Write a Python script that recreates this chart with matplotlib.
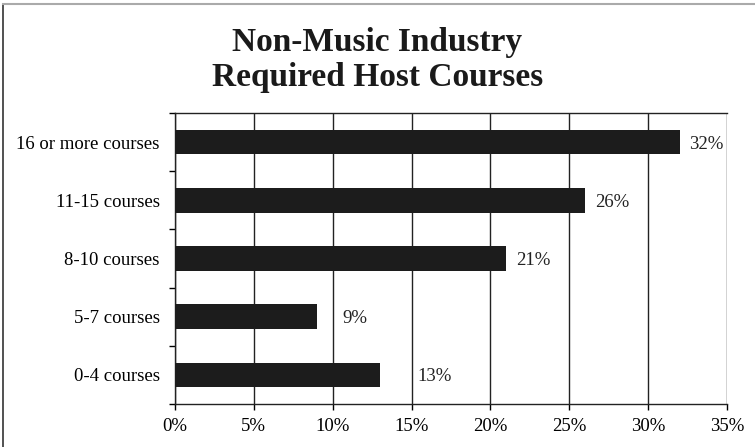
import matplotlib.pyplot as plt
from matplotlib.lines import Line2D
from matplotlib.ticker import FuncFormatter, MultipleLocator

OUT_PATH = "out.png"

categories = ["0-4 courses", "5-7 courses", "8-10 courses", "11-15 courses", "16 or more courses"]
shares = [13, 9, 21, 26, 32]
value_labels = ["13%", "9%", "21%", "26%", "32%"]

TITLE = "Non-Music Industry\nRequired Host Courses"

# label gaps (points) as they sit in the original
label_pad = [27, 18, 7, 7, 7]


def main():
    plt.rcParams["font.family"] = ["Liberation Serif", "DejaVu Serif"]

    fig = plt.figure(figsize=(7.55, 4.47), dpi=100)
    ax = fig.add_axes([175 / 755, 1 - 404 / 447, 552 / 755, 291 / 447])

    y = list(range(len(categories)))
    ax.barh(y, shares, height=0.42, color="#1c1c1c", zorder=3)

    for yi, val, lab, pad in zip(y, shares, value_labels, label_pad):
        ax.annotate(lab, (val, yi), xytext=(pad, 0), textcoords="offset points",
                    ha="left", va="center_baseline", fontsize=13.5, color="#222222")

    ax.set_xlim(0, 35)
    ax.set_ylim(-0.5, len(categories) - 0.5)
    ax.xaxis.set_major_locator(MultipleLocator(5))
    ax.xaxis.set_major_formatter(FuncFormatter(lambda v, _: f"{v:.0f}%"))
    ax.grid(axis="x", color="#222222", linewidth=1.0, zorder=0)

    ax.set_yticks(y)
    ax.set_yticklabels(categories)
    ax.set_yticks([i - 0.5 for i in range(len(categories) + 1)], minor=True)
    ax.tick_params(axis="y", which="major", length=0, pad=11, labelsize=13.5)
    ax.tick_params(axis="y", which="minor", length=4, width=1, direction="out")
    ax.tick_params(axis="x", length=4, width=1, direction="out", pad=6, labelsize=13.5)

    for side in ax.spines.values():
        side.set_color("#222222")
        side.set_linewidth(1.0)
    ax.spines["right"].set_visible(False)

    fig.text(0.5, 1 - 60 / 447, TITLE, ha="center", va="center",
             fontsize=24, fontweight="bold", linespacing=1.2, color="#1a1a1a")

    # page frame left over from the scanned document
    fig.add_artist(Line2D([3 / 755, 3 / 755], [0, 1 - 4 / 447], transform=fig.transFigure,
                          color="#333333", linewidth=1.2))
    fig.add_artist(Line2D([3 / 755, 1], [1 - 4 / 447, 1 - 4 / 447], transform=fig.transFigure,
                          color="#aaaaaa", linewidth=1.5))

    fig.savefig(OUT_PATH, dpi=100)
    plt.close(fig)


if __name__ == "__main__":
    main()
